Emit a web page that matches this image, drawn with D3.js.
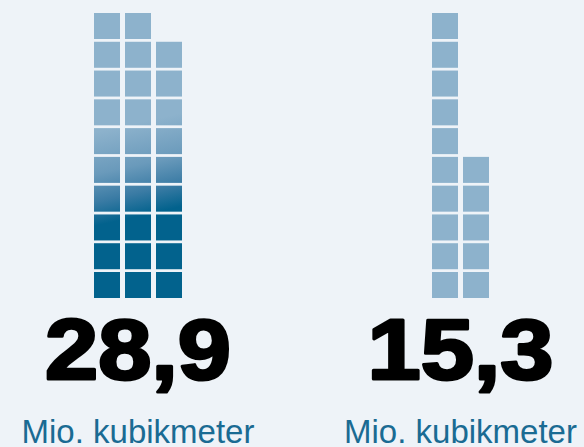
<!DOCTYPE html>
<html><head><meta charset="utf-8">
<script src="https://cdn.jsdelivr.net/npm/d3@7"></script>
<style>html,body{margin:0;padding:0;background:#eef3f8;}svg{display:block;}</style>
</head><body>
<script>
const categories = ["A", "B"];
const values = [28.9, 15.3];
const valueLabels = ["28,9", "15,3"];
const unitLabels = ["Mio. kubikmeter", "Mio. kubikmeter"];
const rowsPerColumn = 10;

const W = 584, H = 447;
const svg = d3.select("body").append("svg").attr("width", W).attr("height", H);
svg.append("rect").attr("width", W).attr("height", H).attr("fill", "#eef3f8");

const xCenter = d3.scalePoint().domain(categories).range([138, 460.5]);
const y = d3.scaleBand().domain(d3.range(rowsPerColumn)).range([298, 13]).paddingInner(0.0966);
const colStep = 31, sq = y.bandwidth();

const defs = svg.append("defs");
const cx0 = xCenter("A");
const grad = defs.append("linearGradient").attr("id", "g0").attr("gradientUnits", "userSpaceOnUse")
  .attr("x1", cx0 - 10).attr("y1", 125).attr("x2", cx0 + 10).attr("y2", 214);
[[0, "#8db2cc"], [0.45, "#6a9abb"], [0.75, "#3a7ba4"], [1, "#02628d"]].forEach(s =>
  grad.append("stop").attr("offset", s[0]).attr("stop-color", s[1]));

categories.forEach((c, i) => {
  const n = Math.round(values[i]);
  const nCols = Math.ceil(n / rowsPerColumn);
  const totalW = nCols * colStep - (colStep - sq);
  const x0 = xCenter(c) - totalW / 2;
  const cells = d3.range(n).map(k => ({col: Math.floor(k / rowsPerColumn), row: k % rowsPerColumn}));
  const g = svg.append("g");
  g.selectAll("rect").data(cells).join("rect")
    .attr("x", d => x0 + d.col * colStep)
    .attr("y", d => y(d.row))
    .attr("width", sq).attr("height", sq)
    .attr("fill", i === 0 ? "url(#g0)" : "#8db2cc");

  svg.append("text").attr("x", xCenter(c)).attr("y", 379)
    .attr("text-anchor", "middle")
    .attr("font-family", "'Liberation Sans', Arial, sans-serif").attr("font-weight", 700)
    .attr("font-size", 85).attr("fill", "#000").attr("stroke", "#000").attr("stroke-width", 3)
    .attr("stroke-linejoin", "round")
    .attr("textLength", 186).attr("lengthAdjust", "spacingAndGlyphs")
    .text(valueLabels[i]);

  svg.append("text").attr("x", xCenter(c)).attr("y", 443)
    .attr("text-anchor", "middle")
    .attr("font-family", "'Liberation Sans', Arial, sans-serif")
    .attr("font-size", 33).attr("fill", "#1a6b93")
    .text(unitLabels[i]);
});
</script>
</body></html>
